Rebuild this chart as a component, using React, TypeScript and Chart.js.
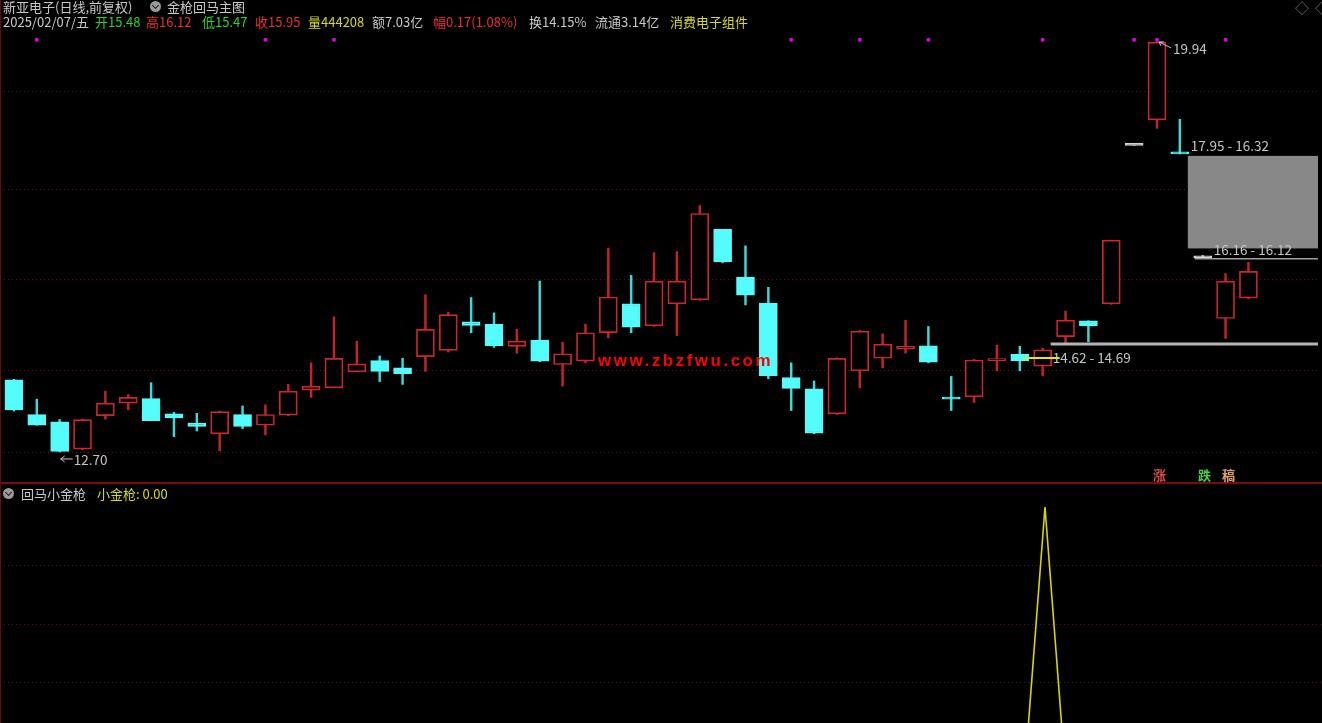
import React, { useEffect, useRef } from "react";
import { Chart, registerables } from "chart.js";

Chart.register(...registerables);

// ---------------- data ----------------
const opens = [13.97, 13.36, 13.23, 12.75, 13.34, 13.56, 13.64, 13.37, 13.21, 13.02, 13.36, 13.17, 13.35, 13.79, 13.83, 14.11, 14.31, 14.18, 14.38, 14.49, 14.99, 14.95, 14.56, 14.67, 14.24, 14.30, 14.80, 15.31, 14.92, 15.31, 15.38, 16.62, 15.78, 15.32, 14.01, 13.81, 13.37, 14.13, 14.35, 14.52, 14.57, 13.66, 13.67, 14.31, 14.42, 14.21, 14.73, 15.01, 15.31, 18.10, 18.55, 17.97, 16.12, 15.05, 15.41];
const highs = [13.98, 13.63, 13.27, 13.28, 13.77, 13.71, 13.92, 13.40, 13.38, 13.42, 13.51, 13.53, 13.89, 14.27, 15.08, 14.65, 14.39, 14.35, 15.47, 15.16, 15.42, 15.15, 14.86, 15.71, 14.63, 14.95, 16.29, 15.81, 16.21, 16.23, 17.04, 16.62, 16.33, 15.60, 14.27, 13.95, 14.36, 14.84, 14.78, 15.02, 14.91, 14.03, 14.33, 14.58, 14.56, 14.53, 15.18, 15.01, 16.43, 18.10, 19.94, 18.56, 16.16, 15.84, 16.04];
const lows = [13.42, 13.17, 12.70, 12.74, 13.28, 13.44, 13.25, 12.97, 13.07, 12.72, 13.11, 13.00, 13.34, 13.66, 13.83, 14.11, 13.94, 13.89, 14.12, 14.46, 14.80, 14.54, 14.44, 14.29, 13.86, 14.27, 14.71, 14.80, 14.91, 14.75, 15.37, 16.03, 15.29, 13.99, 13.43, 13.02, 13.36, 13.83, 14.18, 14.44, 14.27, 13.43, 13.57, 14.13, 14.13, 14.04, 14.61, 14.64, 15.30, 18.10, 18.40, 17.95, 16.12, 14.70, 15.40];
const closes = [13.44, 13.17, 12.71, 13.27, 13.56, 13.66, 13.25, 13.30, 13.15, 13.41, 13.15, 13.36, 13.77, 13.86, 14.35, 14.25, 14.12, 14.08, 14.86, 15.12, 14.93, 14.57, 14.65, 14.30, 14.43, 14.80, 15.43, 14.90, 15.71, 15.71, 16.90, 16.05, 15.46, 14.04, 13.82, 13.03, 14.35, 14.83, 14.60, 14.56, 14.28, 13.63, 14.32, 14.33, 14.31, 14.50, 15.02, 14.92, 16.43, 18.10, 19.92, 17.95, 16.12, 15.71, 15.88];

// magenta signal dots along the top
const signalDotIndices = [1, 11, 14, 34, 37, 40, 45, 49, 50, 53];
const signalDotLevel = 19.96;

// lower indicator 回马小金枪
const xiaoJinQiang = [0, 0, 0, 0, 0, 0, 0, 0, 0, 0, 0, 0, 0, 0, 0, 0, 0, 0, 0, 0, 0, 0, 0, 0, 0, 0, 0, 0, 0, 0, 0, 0, 0, 0, 0, 0, 0, 0, 0, 0, 0, 0, 0, 0, 0, 1, 0, 0, 0, 0, 0, 0, 0, 0, 0];

// grid levels and visible ranges
const priceGrid = [12.69, 14.14, 15.73, 17.32, 19.05];
const priceRange = [12.2236, 20.59];
const indicatorGrid = [0.4153, 0.608, 0.8073];
const indicatorRange = [0.2824, 1.0731];
const xRange = [-0.4348, 57.0435];

// annotations
const lowMark = { index: 2, value: 12.70, label: "12.70" };
const highMark = { index: 50, value: 19.94, label: "19.94" };
const gapBox = { index: 51, top: 17.95, bottom: 16.32, label: "17.95 - 16.32" };
const gapLine = { index: 52, level: 16.12, label: "16.16 - 16.12" };
const rangeLine = { index: 45, level: 14.62, label: "14.62 - 14.69" };
const yellowMark = { from: 44, to: 45, level: 14.355 };

// ---------------- styling ----------------
const UP = "#d0262b";
const UP_WICK = "#c42428";
const DOWN = "#54fcfc";
const DOWN_WICK = "#3ed8d8";
const FLAT = "#d4d4d4";
const GRID = "#6a1010";
const LABEL = "#c4c4c4";
const FONT = "'Noto Sans CJK SC', 'Noto Sans', sans-serif";

const kind = (i: number) => (closes[i] > opens[i] ? "up" : closes[i] < opens[i] ? "down" : "flat");

const annotationPlugin = {
  id: "annots",
  beforeDatasetsDraw(chart: any) {
    const { ctx, scales, chartArea } = chart;
    const x = scales.x, y = scales.y;
    ctx.save();
    const bx = x.getPixelForValue(gapBox.index) + 8;
    const t = y.getPixelForValue(gapBox.top) + 2;
    const b = y.getPixelForValue(gapBox.bottom) + 2;
    ctx.fillStyle = "#888888";
    ctx.fillRect(bx, t, chartArea.right - bx, b - t);
    ctx.restore();
  },
  afterDatasetsDraw(chart: any) {
    const { ctx, scales, chartArea } = chart;
    const x = scales.x, y = scales.y;
    ctx.save();
    ctx.font = `13.5px ${FONT}`;
    ctx.textBaseline = "middle";
    ctx.fillStyle = LABEL;
    ctx.strokeStyle = LABEL;

    // low mark
    let px = x.getPixelForValue(lowMark.index);
    let py = y.getPixelForValue(lowMark.value);
    ctx.lineWidth = 1;
    ctx.beginPath();
    ctx.moveTo(px + 1, py + 7);
    ctx.lineTo(px + 13, py + 7);
    ctx.moveTo(px + 1, py + 7);
    ctx.lineTo(px + 5, py + 4);
    ctx.moveTo(px + 1, py + 7);
    ctx.lineTo(px + 5, py + 10);
    ctx.stroke();
    ctx.fillText(lowMark.label, px + 14, py + 8);

    // high mark
    px = x.getPixelForValue(highMark.index);
    py = y.getPixelForValue(highMark.value);
    ctx.beginPath();
    ctx.moveTo(px + 2, py + 1);
    ctx.lineTo(px + 14, py + 7);
    ctx.moveTo(px + 2, py + 1);
    ctx.lineTo(px + 7, py + 1);
    ctx.moveTo(px + 2, py + 1);
    ctx.lineTo(px + 4, py + 5);
    ctx.stroke();
    ctx.fillText(highMark.label, px + 16, py + 8);

    // gap box label
    px = x.getPixelForValue(gapBox.index);
    py = y.getPixelForValue(gapBox.top);
    ctx.fillText(gapBox.label, px + 11, py - 8);

    // gap line 16.16 - 16.12
    px = x.getPixelForValue(gapLine.index);
    py = y.getPixelForValue(gapLine.level);
    ctx.strokeStyle = "#a0a0a0";
    ctx.lineWidth = 1.5;
    ctx.beginPath();
    ctx.moveTo(px - 8, py + 1);
    ctx.lineTo(chartArea.right, py + 1);
    ctx.stroke();
    ctx.fillStyle = LABEL;
    ctx.fillText(gapLine.label, px + 11, py - 8);

    // range line 14.62 - 14.69
    px = x.getPixelForValue(rangeLine.index);
    py = y.getPixelForValue(rangeLine.level);
    ctx.strokeStyle = "#b4b4b4";
    ctx.lineWidth = 3;
    ctx.beginPath();
    ctx.moveTo(px + 8, py + 1);
    ctx.lineTo(chartArea.right, py + 1);
    ctx.stroke();
    ctx.fillText(rangeLine.label, px + 10, py + 15);

    // yellow short line
    const yx1 = x.getPixelForValue(yellowMark.from) + 5;
    const yx2 = x.getPixelForValue(yellowMark.to) + 17;
    const yy = y.getPixelForValue(yellowMark.level);
    ctx.strokeStyle = "#e8e800";
    ctx.lineWidth = 2;
    ctx.beginPath();
    ctx.moveTo(yx1, yy);
    ctx.lineTo(yx2, yy);
    ctx.stroke();
    ctx.restore();
  },
};

const abs = (left: number, top: number, color: string, extra: any = {}) => ({
  position: "absolute" as const,
  left,
  top,
  color,
  whiteSpace: "nowrap" as const,
  fontFamily: FONT,
  fontSize: 13,
  lineHeight: "15px",
  ...extra,
});

function CheckIcon({ left, top }: { left: number; top: number }) {
  return (
    <div
      style={{
        position: "absolute",
        left,
        top,
        width: 11,
        height: 11,
        borderRadius: "50%",
        background: "#9a9a9a",
      }}
    >
      <div
        style={{
          position: "absolute",
          left: 3,
          top: 2,
          width: 4,
          height: 4,
          borderRight: "1.5px solid #222",
          borderBottom: "1.5px solid #222",
          transform: "rotate(45deg)",
        }}
      />
    </div>
  );
}

export default function App() {
  const topRef = useRef<HTMLCanvasElement>(null);
  const botRef = useRef<HTMLCanvasElement>(null);

  useEffect(() => {
    document.body.style.margin = "0";
    document.body.style.background = "#000";

    const idx = closes.map((_, i) => i);
    const bodies = idx.map((i) => ({ x: i, y: [opens[i], closes[i]] }));
    const wicks = idx.map((i) => ({ x: i, y: [lows[i], highs[i]] }));
    const bodyFill = idx.map((i) => (kind(i) === "up" ? "#000000" : kind(i) === "down" ? DOWN : FLAT));
    const bodyBorder = idx.map((i) => (kind(i) === "up" ? UP : kind(i) === "down" ? DOWN : FLAT));
    const wickColor = idx.map((i) => (kind(i) === "up" ? UP_WICK : kind(i) === "down" ? DOWN_WICK : FLAT));
    const dots = signalDotIndices.map((i) => ({ x: i, y: signalDotLevel }));

    const noWidth = (scale: any) => {
      scale.width = 0;
    };

    const top = new Chart(topRef.current!, {
      type: "bar",
      data: {
        datasets: [
          {
            type: "line",
            data: dots,
            showLine: false,
            pointRadius: 2,
            pointBackgroundColor: "#e000e0",
            pointBorderWidth: 0,
            order: 0,
          } as any,
          {
            data: bodies as any,
            backgroundColor: bodyFill,
            borderColor: bodyBorder,
            borderWidth: 1.7,
            borderSkipped: false,
            barThickness: 18,
            minBarLength: 2,
            grouped: false,
            order: 1,
          } as any,
          {
            data: wicks as any,
            backgroundColor: wickColor,
            borderWidth: 0,
            barThickness: 1.8,
            grouped: false,
            order: 2,
          } as any,
        ],
      },
      options: {
        animation: false,
        responsive: false,
        devicePixelRatio: 1,
        layout: { padding: 0 },
        plugins: { legend: { display: false }, tooltip: { enabled: false } },
        scales: {
          x: { type: "linear", min: xRange[0], max: xRange[1], offset: false, bounds: "ticks", display: false },
          y: {
            type: "linear",
            min: priceRange[0],
            max: priceRange[1],
            afterFit: noWidth,
            afterBuildTicks: (scale: any) => {
              scale.ticks = priceGrid.map((v) => ({ value: v }));
            },
            ticks: { display: false },
            grid: { color: GRID, lineWidth: 1, drawTicks: false },
            border: { display: false, dash: [1, 3] },
          },
        },
      },
      plugins: [annotationPlugin],
    });

    const bot = new Chart(botRef.current!, {
      type: "line",
      data: {
        datasets: [
          {
            data: xiaoJinQiang.map((v, i) => ({ x: i, y: v })),
            borderColor: "#d6d600",
            borderWidth: 1.6,
            pointRadius: 0,
            tension: 0,
          },
        ],
      },
      options: {
        animation: false,
        responsive: false,
        devicePixelRatio: 1,
        layout: { padding: 0 },
        plugins: { legend: { display: false }, tooltip: { enabled: false } },
        scales: {
          x: { type: "linear", min: xRange[0], max: xRange[1], offset: false, display: false },
          y: {
            type: "linear",
            min: indicatorRange[0],
            max: indicatorRange[1],
            afterFit: noWidth,
            afterBuildTicks: (scale: any) => {
              scale.ticks = indicatorGrid.map((v) => ({ value: v }));
            },
            ticks: { display: false },
            grid: { color: GRID, lineWidth: 1, drawTicks: false },
            border: { display: false, dash: [1, 3] },
          },
        },
      },
    });

    return () => {
      top.destroy();
      bot.destroy();
    };
  }, []);

  return (
    <div style={{ position: "relative", width: 1322, height: 723, background: "#000", overflow: "hidden" }}>
      <canvas ref={topRef} width={1322} height={483} style={{ position: "absolute", left: 0, top: 0, width: 1322, height: 483 }} />
      <canvas ref={botRef} width={1322} height={238} style={{ position: "absolute", left: 0, top: 485, width: 1322, height: 238 }} />

      {/* pane borders */}
      <div style={{ position: "absolute", left: 0, top: 482, width: 1322, height: 2, background: "#7c0a0a" }} />
      <div style={{ position: "absolute", left: 0, top: 0, width: 1, height: 723, background: "#6a0808" }} />

      {/* header line 1 */}
      <span style={abs(3, -1, "#c8c8c8")}>新亚电子(日线,前复权)</span>
      <CheckIcon left={150} top={1} />
      <span style={abs(167, -1, "#c8c8c8")}>金枪回马主图</span>

      {/* header line 2 */}
      <span style={abs(3, 14, "#c8c8c8")}>2025/02/07/五</span>
      <span style={abs(95, 14, "#2ad22a")}>开15.48</span>
      <span style={abs(146, 14, "#e83030")}>高16.12</span>
      <span style={abs(202, 14, "#2ad22a")}>低15.47</span>
      <span style={abs(255, 14, "#e83030")}>收15.95</span>
      <span style={abs(308, 14, "#d8d820")}>量444208</span>
      <span style={abs(372, 14, "#c8c8c8")}>额7.03亿</span>
      <span style={abs(433, 14, "#e83030")}>幅0.17(1.08%)</span>
      <span style={abs(529, 14, "#c8c8c8")}>换14.15%</span>
      <span style={abs(595, 14, "#c8c8c8")}>流通3.14亿</span>
      <span style={abs(670, 14, "#d8d820")}>消费电子组件</span>

      {/* top-right icons */}
      <span style={abs(1295, 0, "#777777", { fontSize: 14 })}>◇</span>
      <span style={abs(1315, 0, "#777777", { fontSize: 14 })}>◇</span>

      {/* watermark */}
      <span style={abs(598, 351, "#ff0000", { fontFamily: "'Liberation Sans', Arial, sans-serif", fontWeight: 900, fontSize: 17, lineHeight: "20px", letterSpacing: 2.5 })}>
        www.zbzfwu.com
      </span>

      {/* bottom markers */}
      <span style={abs(1153, 467, "#e04a4a", { fontWeight: 700 })}>涨</span>
      <span style={abs(1198, 467, "#44d044", { fontWeight: 700 })}>跌</span>
      <span style={abs(1222, 467, "#e0a070", { fontWeight: 700 })}>稿</span>

      {/* lower pane label */}
      <CheckIcon left={3} top={488} />
      <span style={abs(21, 486, "#c8c8c8")}>回马小金枪</span>
      <span style={abs(97, 486, "#d8d820")}>小金枪: 0.00</span>
    </div>
  );
}
